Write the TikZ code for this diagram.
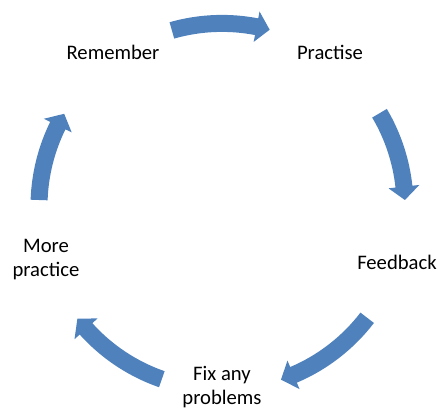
\documentclass[tikz,border=0pt]{standalone}
\usepackage{fontspec}
\setmainfont{Carlito}
\usetikzlibrary{calc}
\definecolor{arrowblue}{RGB}{79,129,189}
\definecolor{labeltext}{RGB}{0,0,0}
\newcommand{\cycarrow}[2]{%
  \pgfmathsetmacro{\hb}{#2+4.2}%
  \fill[arrowblue] ($(C)+(#1:191.5)$) arc[start angle=#1, end angle=\hb, radius=191.5]
    -- ($(C)+(\hb:198.5)$) -- ($(C)+(#2:183)$) -- ($(C)+(\hb:167.5)$)
    -- ($(C)+(\hb:174.5)$) arc[start angle=\hb, end angle=#1, radius=174.5] -- cycle;}
\tikzset{lbl/.style={align=center, font=\fontsize{15.5}{18}\selectfont, text=labeltext, inner sep=0pt}}
\begin{document}
\begin{tikzpicture}[x=0.75pt,y=0.75pt]
\useasboundingbox (0,0) rectangle (438,409);
\coordinate (C) at (222,202.6);
\cycarrow{105.9}{74.9}
\cycarrow{30.6}{2}
\cycarrow{-37.5}{-71.2}
\cycarrow{-109.2}{-142.2}
\cycarrow{178}{149.6}
\node[lbl] (remember) at (113,357) {Remember};
\node[lbl] (practise) at (330,357) {Practise};
\node[lbl] (feedback) at (397,147) {Feedback};
\node[lbl] (fix) at (222,22) {Fix any\\problems};
\node[lbl] (more) at (46,149) {More\\practice};
\end{tikzpicture}
\end{document}
